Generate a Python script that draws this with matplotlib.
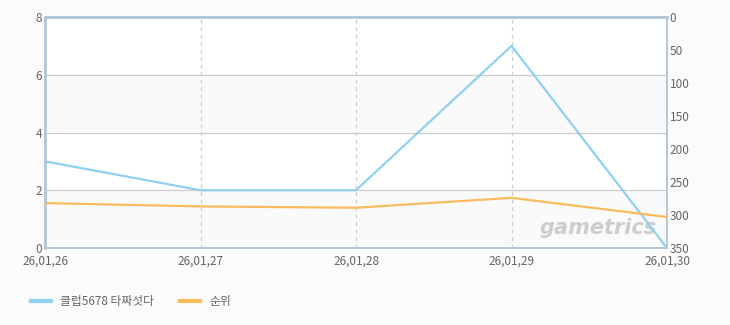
import matplotlib
matplotlib.use("Agg")
import matplotlib.pyplot as plt
from matplotlib.lines import Line2D

plt.rcParams['font.family'] = ['Noto Sans CJK KR', 'DejaVu Sans']

dates = ["26,01,26", "26,01,27", "26,01,28", "26,01,29", "26,01,30"]
viewers = [3, 2, 2, 7, 0]
rank = [282, 287, 289, 274, 303]

blue = "#8fd1f0"
orange = "#fbbb5c"
frame = "#b4c6d9"
text_c = "#666666"

fig = plt.figure(figsize=(7.3, 3.25), dpi=100)
fig.patch.set_facecolor("#fbfbfb")
ax = fig.add_axes([45 / 730, 1 - 248 / 325, 622 / 730, 231 / 325])
ax.set_facecolor("white")

x = list(range(len(dates)))
ax.set_xlim(0, len(dates) - 1)
ax.set_ylim(0, 8)

# alternating bands
for lo in (0, 4):
    ax.axhspan(lo, lo + 2, color="#fafafa", zorder=0)

for yv in (2, 4, 6):
    ax.axhline(yv, color="#cccccc", lw=0.9, zorder=1)
for xv in x[1:-1]:
    ax.axvline(xv, color="#cccccc", lw=0.9, ls=(0, (3, 3)), zorder=1)

ax.text(0.984, 0.045, "gametrics", transform=ax.transAxes, ha="right", va="bottom",
        fontsize=15, fontweight="bold", style="italic", color="#cdcdcd",
        family="DejaVu Sans", zorder=2)

ax.plot(x, viewers, color=blue, lw=1.6, zorder=3)

ax2 = ax.twinx()
ax2.set_ylim(350, 0)
ax2.plot(x, rank, color=orange, lw=1.6, zorder=3)

ax.set_xticks(x)
ax.set_xticklabels(dates)
ax.set_yticks([0, 2, 4, 6, 8])
ax2.set_yticks([0, 50, 100, 150, 200, 250, 300, 350])

for a in (ax, ax2):
    a.tick_params(colors=text_c, labelsize=8.5, length=0, pad=2)
    for s in a.spines.values():
        s.set_color(frame)
        s.set_linewidth(1.2)
ax.spines["left"].set_linewidth(2)
ax.spines["top"].set_linewidth(2)
ax.tick_params(axis="x", pad=5)

handles = [Line2D([], [], color=blue, lw=3), Line2D([], [], color=orange, lw=3)]
fig.legend(handles, ["클럽5678 타짜섯다", "순위"], loc="lower left",
           bbox_to_anchor=(20 / 730, 0.02), ncol=2, frameon=False,
           fontsize=8.5, labelcolor=text_c, handlelength=1.7, columnspacing=2.2)

fig.savefig("out.png", dpi=100, facecolor=fig.get_facecolor())
